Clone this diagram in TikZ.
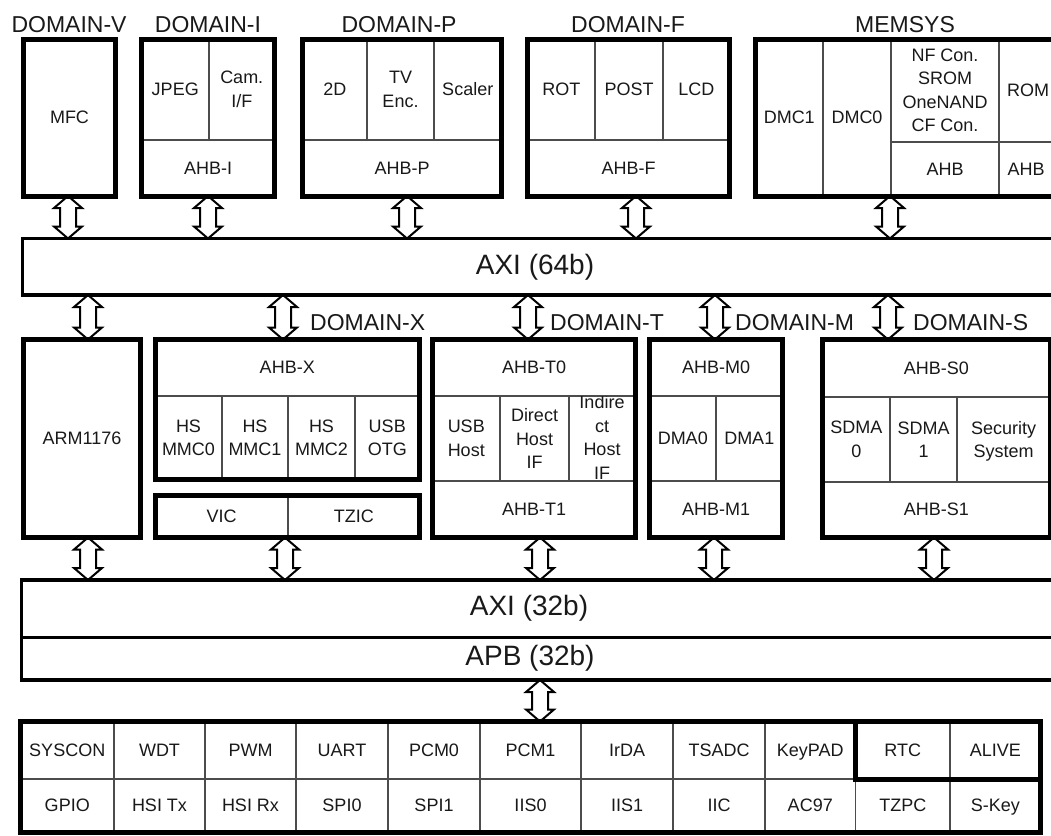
\documentclass[tikz,border=0pt]{standalone}
\usepackage{fontspec}
\setmainfont{Liberation Sans}
\usetikzlibrary{calc,backgrounds}
\newcommand\mkcell[6]{\node[cell, minimum width={(#4)-(#2)}, minimum height={(#5)-(#3)}] (#1) at ({((#2)+(#4))/2},{((#3)+(#5))/2}) {#6};}
\newcommand\mkframe[6]{\node[frame, minimum width={(#4)-(#2)}, minimum height={(#5)-(#3)}] (#1) at ({((#2)+(#4))/2},{((#3)+(#5))/2}) {#6};}
\newcommand\mkbar[5]{\node[busbar, minimum width={(#4)-(#2)}, minimum height={(#5)-(#3)}] (#1) at ({((#2)+(#4))/2},{((#3)+(#5))/2}) {};}
\newcommand\nodepth[1]{\raisebox{0pt}[\height][0pt]{#1}}
\newcommand\busarrow[3]{%
  \path[barrow] let \p1=(#1,0 |- #2.south), \p2=(#1,0 |- #3.north) in
    (\x1,\y1) -- (\x1+14pt,\y1-12pt) -- (\x1+8pt,\y1-12pt) -- (\x1+8pt,\y2+12pt)
    -- (\x1+14pt,\y2+12pt) -- (\x1,\y2) -- (\x1-14pt,\y2+12pt) -- (\x1-8pt,\y2+12pt)
    -- (\x1-8pt,\y1-12pt) -- (\x1-14pt,\y1-12pt) -- cycle;}
\tikzset{
  cell/.style={draw=black!70, line width=1.2pt, inner sep=0pt, outer sep=0pt, align=center,
    font=\fontsize{18}{23.5}\selectfont, text=black!90},
  frame/.style={draw=black, line width=5pt, inner sep=0pt, outer sep=0pt, align=center,
    font=\fontsize{18}{23.5}\selectfont, text=black!90},
  busbar/.style={draw=black, line width=3.5pt, inner sep=0pt, outer sep=0pt},
  lbl/.style={font=\fontsize{23}{26}\selectfont, text=black!90, inner sep=0pt},
  busfont/.style={font=\fontsize{28}{30}\selectfont, text=black!90, inner sep=0pt},
  barrow/.style={draw=black, line width=2pt, fill=white, line join=miter},
}
\begin{document}
\begin{tikzpicture}[x=1pt,y=-1pt]
\useasboundingbox (0,0) rectangle (1051,835);
\clip (0,0) rectangle (1051,835);
% ---------- top domains ----------
\node[lbl] (lV) at (69,25) {DOMAIN-V};
\node[lbl] (lI) at (208,25) {DOMAIN-I};
\node[lbl] (lP) at (399,25) {DOMAIN-P};
\node[lbl] (lF) at (628,25) {DOMAIN-F};
\node[lbl] (lMem) at (905,25) {MEMSYS};
\mkframe{domV}{23.5}{39}{115.5}{196}{MFC}
\mkcell{jpeg}{141.5}{39}{209}{140}{JPEG}
\mkcell{cam}{209}{39}{274.5}{140}{Cam.\\I/F}
\mkcell{ahbi}{141.5}{140}{274.5}{196}{AHB-I}
\mkframe{domI}{141.5}{39}{274.5}{196}{}
\mkcell{twod}{302.5}{39}{367}{140}{2D}
\mkcell{tv}{367}{39}{434}{140}{TV\\Enc.}
\mkcell{scaler}{434}{39}{501.5}{140}{Scaler}
\mkcell{ahbp}{302.5}{140}{501.5}{196}{AHB-P}
\mkframe{domP}{302.5}{39}{501.5}{196}{}
\mkcell{rot}{527.5}{39}{595}{140}{ROT}
\mkcell{post}{595}{39}{663}{140}{POST}
\mkcell{lcd}{663}{39}{729.5}{140}{LCD}
\mkcell{ahbf}{527.5}{140}{729.5}{196}{AHB-F}
\mkframe{domF}{527.5}{39}{729.5}{196}{}
\mkcell{dmc1}{755.5}{39}{823}{196}{DMC1}
\mkcell{dmc0}{823}{39}{891}{196}{DMC0}
\mkcell{nfcon}{891}{39}{999}{142}{NF Con.\\SROM\\OneNAND\\CF Con.}
\mkcell{rom}{999}{39}{1058}{142}{}
\node[cell, draw=none] (romt) at (1028,90) {ROM};
\mkcell{ahbm1}{891}{142}{999}{196}{AHB}
\mkcell{ahbm2}{999}{142}{1058}{196}{}
\node[cell, draw=none] (ahbm2t) at (1026,169) {AHB};
\mkframe{memsys}{755.5}{39}{1058}{196}{}
% ---------- AXI 64 ----------
\mkbar{axisf}{22.5}{238.5}{1060}{295}
\node[busfont] (axisft) at (535,267) {AXI (64b)};
% ---------- middle domains ----------
\node[lbl, anchor=west] (lX) at (310,323) {DOMAIN-X};
\node[lbl, anchor=west] (lT) at (550,323) {DOMAIN-T};
\node[lbl, anchor=west] (lM) at (735,323) {DOMAIN-M};
\node[lbl, anchor=west] (lS) at (913,323) {DOMAIN-S};
\mkframe{arm}{23.5}{339.5}{140.5}{537.5}{ARM1176}
\mkcell{ahbx}{155}{339.5}{419.5}{396}{AHB-X}
\mkcell{mmc0}{155}{396}{222}{479.5}{HS\\MMC0}
\mkcell{mmc1}{222}{396}{288}{479.5}{HS\\MMC1}
\mkcell{mmc2}{288}{396}{355}{479.5}{HS\\MMC2}
\mkcell{otg}{355}{396}{419.5}{479.5}{USB\\OTG}
\mkframe{domX}{155}{339.5}{419.5}{479.5}{}
\mkcell{vic}{155}{495}{288}{537.5}{VIC}
\mkcell{tzic}{288}{495}{419.5}{537.5}{TZIC}
\mkframe{vicbox}{155}{495}{419.5}{537.5}{}
\mkcell{ahbt0}{432.5}{339.5}{635.5}{396}{AHB-T0}
\mkcell{usbh}{432.5}{396}{500}{481}{USB\\Host}
\mkcell{dhif}{500}{396}{569}{481}{Direct\\Host\\IF}
\mkcell{ihif}{569}{396}{635.5}{481}{}
\begin{scope}
\clip (569,396) rectangle (635.5,481);
\node[cell, draw=none] (ihift) at (602,437.5) {Indire\\ct\\Host\\IF};
\end{scope}
\mkcell{ahbt1}{432.5}{481}{635.5}{537.5}{AHB-T1}
\mkframe{domT}{432.5}{339.5}{635.5}{537.5}{}
\mkcell{ahbm0}{649.5}{339.5}{782.5}{396}{AHB-M0}
\mkcell{dma0}{649.5}{396}{716}{481}{DMA0}
\mkcell{dma1}{716}{396}{782.5}{481}{DMA1}
\mkcell{ahbmone}{649.5}{481}{782.5}{537.5}{AHB-M1}
\mkframe{domM}{649.5}{339.5}{782.5}{537.5}{}
\mkcell{ahbs0}{822.5}{339.5}{1050}{397}{AHB-S0}
\mkcell{sdma0}{822.5}{397}{890}{482}{SDMA\\0}
\mkcell{sdma1}{890}{397}{957}{482}{SDMA\\1}
\mkcell{secsys}{957}{397}{1050}{482}{Security\\\nodepth{System}}
\mkcell{ahbs1}{822.5}{482}{1050}{537.5}{AHB-S1}
\mkframe{domS}{822.5}{339.5}{1050}{537.5}{}
% ---------- AXI 32 / APB ----------
\mkbar{axitt}{21.5}{580}{1060}{637.5}
\node[busfont] (axittt) at (529,608) {AXI (32b)};
\mkbar{apb}{21.5}{637.5}{1060}{680}
\node[busfont] (apbt) at (530,658) {APB (32b)};
% ---------- peripheral table ----------
\mkcell{syscon}{20.5}{721.5}{114}{779}{SYSCON}
\mkcell{wdt}{114}{721.5}{205}{779}{WDT}
\mkcell{pwm}{205}{721.5}{296}{779}{PWM}
\mkcell{uart}{296}{721.5}{388}{779}{UART}
\mkcell{pcm0}{388}{721.5}{480}{779}{PCM0}
\mkcell{pcm1}{480}{721.5}{581}{779}{PCM1}
\mkcell{irda}{581}{721.5}{673}{779}{IrDA}
\mkcell{tsadc}{673}{721.5}{765}{779}{TSADC}
\mkcell{keypad}{765}{721.5}{855.5}{779}{\nodepth{KeyPAD}}
\mkcell{rtc}{855.5}{721.5}{950}{779}{RTC}
\mkcell{alive}{950}{721.5}{1040.5}{779}{ALIVE}
\mkcell{gpio}{20.5}{779}{114}{832}{GPIO}
\mkcell{hsitx}{114}{779}{205}{832}{HSI Tx}
\mkcell{hsirx}{205}{779}{296}{832}{HSI Rx}
\mkcell{spi0}{296}{779}{388}{832}{SPI0}
\mkcell{spi1}{388}{779}{480}{832}{SPI1}
\mkcell{iis0}{480}{779}{581}{832}{IIS0}
\mkcell{iis1}{581}{779}{673}{832}{IIS1}
\mkcell{iic}{673}{779}{765}{832}{IIC}
\mkcell{ac97}{765}{779}{855.5}{832}{AC97}
\mkcell{tzpc}{855.5}{779}{950}{832}{TZPC}
\mkcell{skey}{950}{779}{1040.5}{832}{\nodepth{S-Key}}
\mkframe{ptable}{20.5}{721.5}{1040.5}{832}{}
\mkframe{rtcbox}{855.5}{721.5}{1040.5}{779}{}
% ---------- bus arrows ----------
\begin{pgfonlayer}{background}
\fill[white] (0,0) rectangle (1051,835);
\busarrow{68}{domV}{axisf}
\busarrow{208}{domI}{axisf}
\busarrow{407}{domP}{axisf}
\busarrow{636}{domF}{axisf}
\busarrow{890}{memsys}{axisf}
\busarrow{88}{axisf}{arm}
\busarrow{283}{axisf}{domX}
\busarrow{528}{axisf}{domT}
\busarrow{715}{axisf}{domM}
\busarrow{888}{axisf}{domS}
\busarrow{88}{arm}{axitt}
\busarrow{285}{vicbox}{axitt}
\busarrow{540}{domT}{axitt}
\busarrow{714}{domM}{axitt}
\busarrow{934}{domS}{axitt}
\busarrow{540}{apb}{ptable}
\end{pgfonlayer}
\end{tikzpicture}
\end{document}
